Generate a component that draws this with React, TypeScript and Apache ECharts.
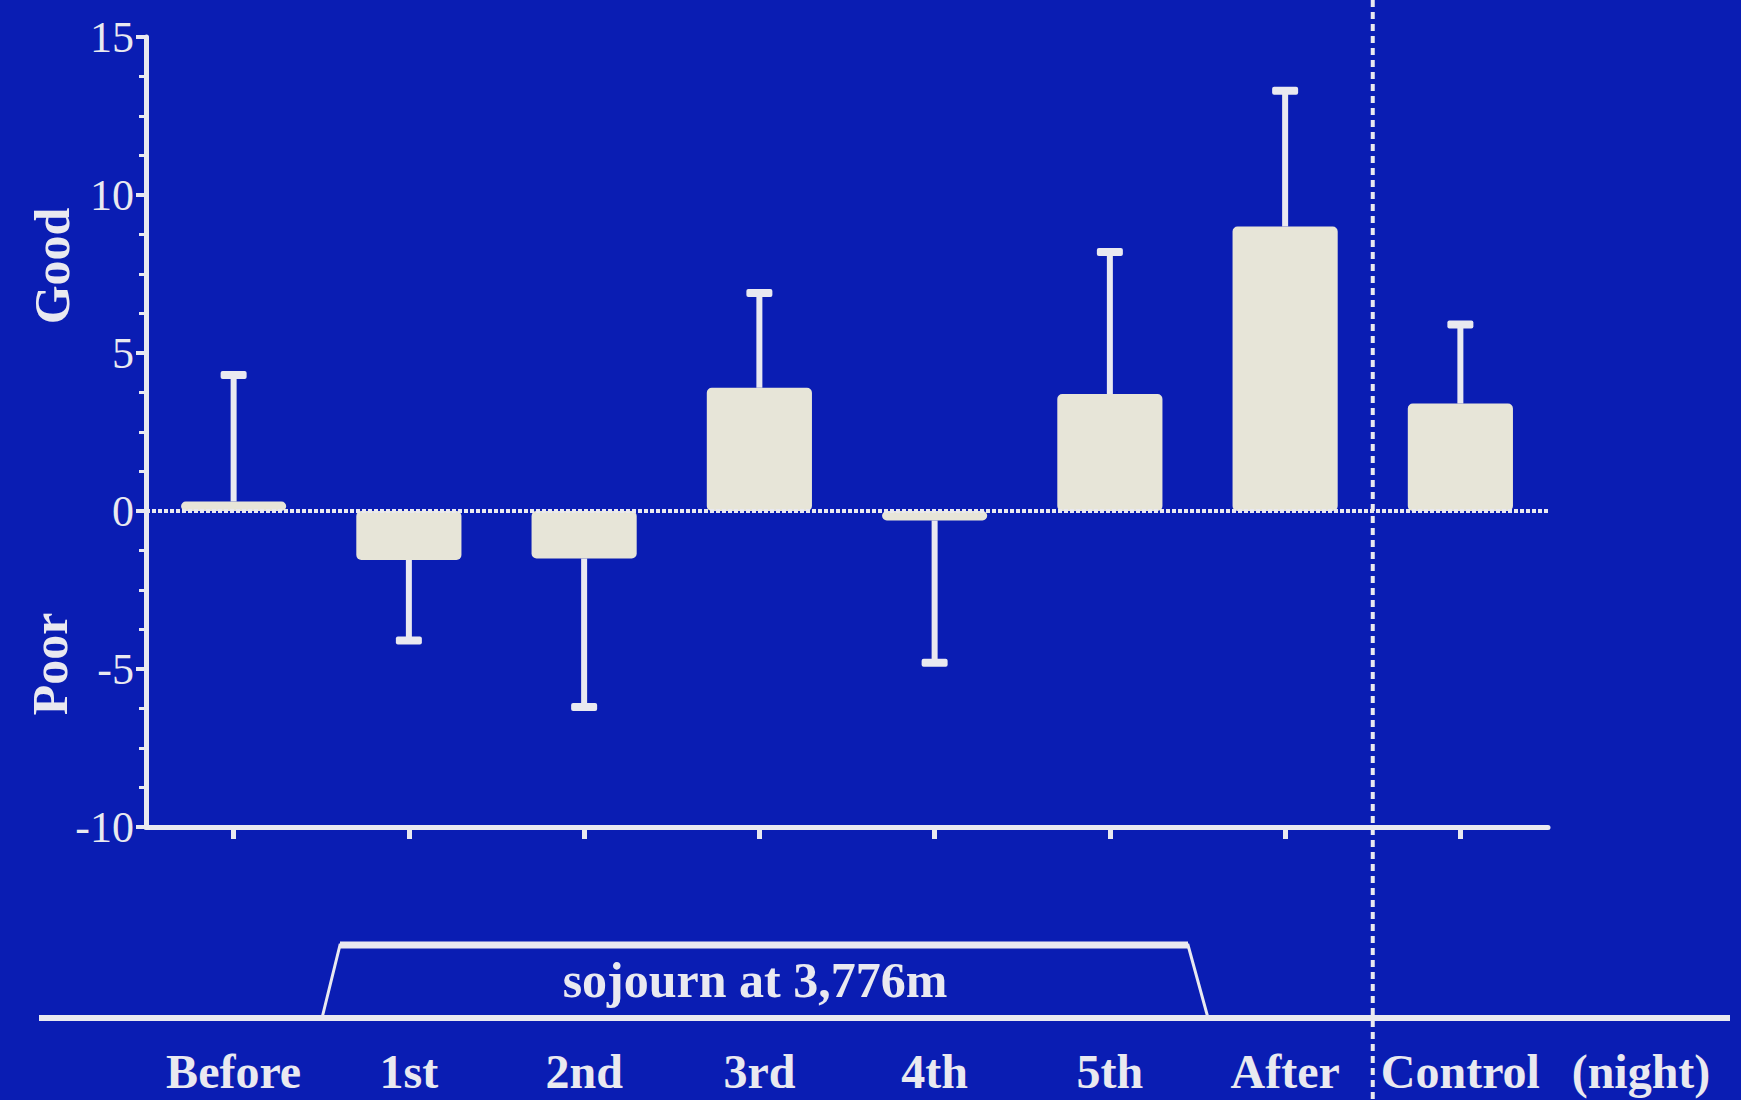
import React, { useEffect, useRef } from "react";
import * as echarts from "echarts";

const categories = ["Before", "1st", "2nd", "3rd", "4th", "5th", "After", "Control"];
const means = [0.3, -1.55, -1.5, 3.9, -0.3, 3.7, 9.0, 3.4];
const errorEnds = [4.3, -4.1, -6.2, 6.9, -4.8, 8.2, 13.3, 5.9];
const yTicks = [-10, -5, 0, 5, 10, 15];
const sojournLabel = "sojourn at 3,776m";
const controlSuffix = "(night)";
const goodLabel = "Good";
const poorLabel = "Poor";

const BG = "#0a1db3";
const FG = "#e9e9f0";
const BAR = "#e7e5d8";
const FONT = "'Liberation Serif', 'Times New Roman', serif";

export default function App() {
  const ref = useRef<HTMLDivElement>(null);
  useEffect(() => {
    const chart = echarts.init(ref.current!, null, { renderer: "svg" });
    const renderError = (params: any, api: any) => {
      const idx = api.value(0);
      const p0 = api.coord([idx, api.value(1)]);
      const p1 = api.coord([idx, api.value(2)]);
      return {
        type: "group",
        children: [
          {
            type: "line",
            shape: { x1: p0[0], y1: p0[1], x2: p1[0], y2: p1[1] },
            style: { stroke: FG, lineWidth: 6 },
          },
          {
            type: "rect",
            shape: { x: p1[0] - 13, y: p1[1] - 4, width: 26, height: 8, r: 2 },
            style: { fill: FG },
          },
        ],
      };
    };
    const LABEL_MARGIN = 220;
    chart.setOption({
      animation: false,
      backgroundColor: BG,
      grid: { left: 146, right: 193, top: 37, bottom: 273 },
      xAxis: {
        type: "category",
        data: categories,
        boundaryGap: true,
        axisLine: { onZero: false, lineStyle: { color: FG, width: 5 } },
        axisTick: {
          show: true,
          interval: 0,
          alignWithLabel: true,
          length: 12,
          lineStyle: { color: FG, width: 5 },
        },
        axisLabel: {
          interval: 0,
          color: FG,
          fontFamily: FONT,
          fontWeight: "bold",
          fontSize: 48,
          margin: LABEL_MARGIN,
        },
        splitLine: { show: false },
      },
      yAxis: {
        type: "value",
        min: -10,
        max: 15,
        interval: 5,
        axisLine: { show: true, lineStyle: { color: FG, width: 5 } },
        axisTick: { show: true, length: 10, lineStyle: { color: FG, width: 4 } },
        minorTick: { show: true, splitNumber: 4, length: 7, lineStyle: { color: FG, width: 3 } },
        axisLabel: {
          color: FG,
          fontFamily: FONT,
          fontSize: 44,
          margin: 12,
          formatter: (v: number) => (yTicks.includes(v) ? String(v) : ""),
        },
        splitLine: { show: false },
      },
      series: [
        {
          type: "custom",
          renderItem: renderError,
          data: errorEnds.map((e, i) => [i, means[i], e]),
          z: 1,
          silent: true,
        },
        {
          type: "bar",
          data: means,
          barWidth: "60%",
          z: 3,
          itemStyle: { color: BAR, borderRadius: 5 },
          markLine: {
            silent: true,
            symbol: ["none", "none"],
            label: { show: false },
            lineStyle: { color: FG, type: [4, 2], width: 4 },
            data: [{ yAxis: 0 }],
          },
        },
      ],
    });

    const x6 = chart.convertToPixel({ xAxisIndex: 0 }, 6) as number;
    const x7 = chart.convertToPixel({ xAxisIndex: 0 }, 7) as number;
    const sepX = (x6 + x7) / 2;
    const labelTop = (chart.convertToPixel({ yAxisIndex: 0 }, -10) as number) + LABEL_MARGIN;
    const baseY = 1018;

    chart.setOption({
      graphic: [
        {
          type: "line",
          shape: { x1: sepX, y1: 0, x2: sepX, y2: 1100 },
          style: { stroke: FG, lineWidth: 4, lineDash: [7, 5] },
          z: 10,
        },
        {
          type: "line",
          shape: { x1: 39, y1: baseY, x2: 1730, y2: baseY },
          style: { stroke: FG, lineWidth: 6 },
        },
        {
          type: "polyline",
          shape: { points: [[322, baseY], [340, 945], [1188, 945], [1208, baseY]] },
          style: { stroke: FG, lineWidth: 3, fill: null },
        },
        {
          type: "line",
          shape: { x1: 340, y1: 945, x2: 1188, y2: 945 },
          style: { stroke: FG, lineWidth: 7 },
        },
        {
          type: "text",
          x: 755,
          y: 980,
          style: {
            text: sojournLabel,
            fill: FG,
            font: `bold 50px ${FONT}`,
            textAlign: "center",
            textVerticalAlign: "middle",
          },
        },
        {
          type: "text",
          x: 1641,
          y: labelTop,
          style: {
            text: controlSuffix,
            fill: FG,
            font: `bold 48px ${FONT}`,
            textAlign: "center",
            textVerticalAlign: "top",
          },
        },
        {
          type: "text",
          x: 52,
          y: 266,
          rotation: Math.PI / 2,
          style: {
            text: goodLabel,
            fill: FG,
            font: `bold 50px ${FONT}`,
            textAlign: "center",
            textVerticalAlign: "middle",
          },
        },
        {
          type: "text",
          x: 50,
          y: 664,
          rotation: Math.PI / 2,
          style: {
            text: poorLabel,
            fill: FG,
            font: `bold 50px ${FONT}`,
            textAlign: "center",
            textVerticalAlign: "middle",
          },
        },
      ],
    });

    return () => chart.dispose();
  }, []);
  return (
    <div
      ref={ref}
      style={{ position: "fixed", left: 0, top: 0, width: 1741, height: 1100 }}
    />
  );
}
